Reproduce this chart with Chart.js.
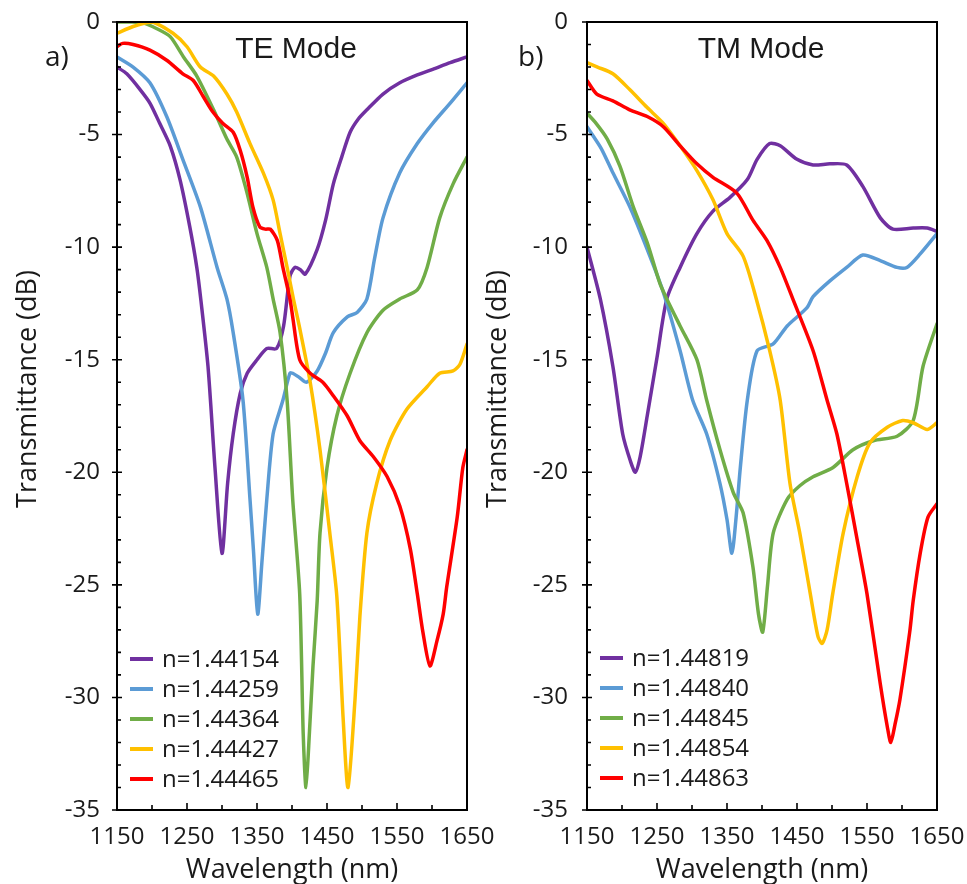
<!DOCTYPE html>
<html><head><meta charset="utf-8">
<script src="https://cdn.jsdelivr.net/npm/chart.js@4.4.1/dist/chart.umd.min.js"></script>
<style>
html,body{margin:0;padding:0;background:#fff;}
body{width:967px;height:884px;position:relative;overflow:hidden;}
#wrapA{position:absolute;left:0;top:0;width:500px;height:884px;}
#wrapB{position:absolute;left:480px;top:0;width:487px;height:884px;}
</style></head><body>
<div id="wrapA"><canvas id="cA" width="500" height="884"></canvas></div>
<div id="wrapB"><canvas id="cB" width="487" height="884"></canvas></div>
<script>
// ---------- axis ticks ----------
const xTicksMin = 1150, xTicksMax = 1650, xTickStep = 100;
const yTicksMin = -35, yTicksMax = 0, yTickStep = 5;

const seriesColors = ['#7030A0', '#5B9BD5', '#70AD47', '#FFC000', '#FF0000'];

// ---------- a) TE mode ----------
const teLabels = ['n=1.44154', 'n=1.44259', 'n=1.44364', 'n=1.44427', 'n=1.44465'];

const teWl1 = [1150,1164,1183,1197,1211,1226,1240,1254,1264,1270,1280,1290,1300,1308,1316,1326,1336,1350,1364,1378,1388,1397,1404,1412,1419,1436,1448,1459,1471,1483,1495,1507,1530,1554,1579,1601,1626,1650];
const teDb1 = [-2.0,-2.3,-3.0,-3.6,-4.5,-5.5,-7.0,-9.1,-10.9,-12.4,-15.3,-19.8,-23.6,-20.5,-18.3,-16.5,-15.6,-15.0,-14.5,-14.5,-13.5,-11.3,-10.9,-11.0,-11.2,-10.1,-8.8,-7.2,-6.0,-4.9,-4.3,-3.9,-3.2,-2.7,-2.35,-2.1,-1.8,-1.55];

const teWl2 = [1150,1173,1197,1221,1244,1269,1293,1307,1316,1330,1340,1345,1351,1357,1364,1373,1387,1397,1401,1411,1421,1436,1448,1459,1479,1493,1507,1518,1530,1554,1579,1601,1626,1650];
const teDb2 = [-1.55,-2.0,-2.7,-4.2,-6.1,-8.2,-10.9,-12.3,-13.8,-16.8,-21.2,-23.5,-26.3,-24.0,-21.2,-18.3,-16.8,-15.6,-15.6,-15.8,-16.0,-15.5,-14.7,-13.8,-13.1,-12.9,-12.3,-10.5,-8.7,-6.7,-5.4,-4.5,-3.6,-2.7];

const teWl3 = [1150,1172,1188,1207,1226,1245,1264,1288,1307,1321,1335,1350,1364,1373,1383,1393,1401,1411,1416,1420,1425,1430,1436,1440,1450,1464,1483,1507,1530,1554,1579,1593,1611,1630,1650];
const teDb3 = [0,0,-0.05,-0.3,-0.65,-1.55,-2.4,-3.9,-5.2,-6.0,-7.5,-9.4,-10.9,-12.3,-13.8,-16.8,-21.2,-25.4,-31.6,-34.0,-31.5,-28.6,-25.7,-22.7,-19.8,-17.5,-15.6,-13.8,-12.8,-12.3,-11.9,-10.9,-8.7,-7.2,-6.0];

const teWl4 = [1150,1173,1190,1201,1230,1250,1269,1288,1307,1321,1340,1359,1373,1383,1393,1402,1411,1426,1440,1454,1464,1473,1480,1490,1497,1507,1521,1540,1564,1593,1611,1630,1640,1650];
const teDb4 = [-0.5,-0.2,-0.05,0,-0.5,-1.1,-2.0,-2.4,-3.2,-4.0,-5.4,-6.7,-7.9,-9.4,-10.9,-12.3,-13.6,-16.0,-19.0,-22.7,-25.5,-30.9,-34.0,-30.1,-26.4,-22.7,-20.5,-18.6,-17.2,-16.2,-15.6,-15.5,-15.2,-14.3];

const teWl5 = [1150,1158,1173,1197,1221,1244,1259,1273,1287,1301,1316,1326,1336,1344,1354,1362,1369,1379,1387,1397,1401,1411,1426,1444,1459,1479,1497,1516,1536,1554,1569,1579,1587,1597,1607,1616,1621,1636,1644,1650];
const teDb5 = [-1.1,-0.95,-1.0,-1.25,-1.7,-2.3,-2.6,-3.3,-4.0,-4.5,-4.9,-5.7,-6.9,-8.2,-9.1,-9.2,-9.2,-9.7,-10.9,-12.3,-13.1,-15.0,-15.6,-16.0,-16.6,-17.5,-18.6,-19.3,-20.2,-21.5,-23.4,-25.4,-27.1,-28.6,-27.5,-26.3,-25.1,-22.0,-19.8,-19.0];

// ---------- b) TM mode ----------
const tmLabels = ['n=1.44819', 'n=1.44840', 'n=1.44845', 'n=1.44854', 'n=1.44863'];

const tmWl1 = [1150,1169,1187,1201,1212,1219,1226,1236,1250,1264,1283,1307,1330,1354,1379,1393,1411,1426,1450,1473,1497,1521,1544,1569,1587,1616,1636,1650];
const tmDb1 = [-10.0,-12.3,-15.3,-18.3,-19.5,-20.0,-19.3,-17.5,-14.9,-12.3,-10.9,-9.4,-8.4,-7.8,-7.0,-6.1,-5.4,-5.5,-6.1,-6.35,-6.3,-6.35,-7.3,-8.7,-9.2,-9.15,-9.15,-9.3];

const tmWl2 = [1150,1170,1187,1211,1236,1259,1283,1301,1321,1340,1350,1357,1363,1369,1379,1393,1416,1436,1464,1473,1497,1521,1544,1569,1593,1607,1626,1650];
const tmDb2 = [-4.65,-5.6,-6.7,-8.2,-10.1,-12.0,-14.6,-16.8,-18.3,-20.5,-22.1,-23.6,-22.0,-19.8,-16.8,-14.6,-14.3,-13.5,-12.7,-12.2,-11.5,-10.9,-10.35,-10.6,-10.9,-10.9,-10.3,-9.4];

const tmWl3 = [1150,1163,1179,1197,1216,1236,1254,1264,1283,1307,1321,1340,1359,1373,1387,1395,1401,1408,1416,1436,1454,1473,1501,1530,1559,1593,1616,1630,1650];
const tmDb3 = [-4.05,-4.5,-5.2,-6.4,-8.2,-9.8,-11.6,-12.3,-13.5,-15.0,-16.8,-19.0,-20.9,-21.8,-24.2,-26.3,-27.1,-25.0,-22.7,-21.2,-20.6,-20.2,-19.8,-19.0,-18.6,-18.4,-17.7,-15.3,-13.4];

const tmWl4 = [1150,1165,1187,1211,1236,1259,1283,1307,1330,1350,1373,1391,1411,1426,1440,1454,1469,1480,1486,1493,1501,1516,1536,1554,1579,1601,1616,1636,1650];
const tmDb4 = [-1.8,-2.0,-2.3,-3.0,-3.8,-4.5,-5.5,-6.6,-7.9,-9.4,-10.4,-12.2,-14.6,-16.8,-20.5,-22.7,-25.4,-27.3,-27.6,-27.0,-25.4,-22.7,-20.2,-18.7,-18.0,-17.7,-17.8,-18.1,-17.8];

const tmWl5 = [1150,1164,1187,1211,1236,1259,1283,1307,1330,1364,1387,1407,1426,1444,1473,1493,1507,1521,1536,1550,1569,1579,1584,1590,1597,1611,1616,1626,1637,1650];
const tmDb5 = [-2.6,-3.2,-3.5,-3.9,-4.2,-4.65,-5.5,-6.3,-6.9,-7.6,-8.8,-9.7,-10.9,-12.3,-14.6,-16.8,-18.3,-20.5,-23.0,-25.4,-29.4,-31.3,-32.0,-31.2,-30.1,-27.1,-25.7,-23.6,-22.0,-21.4];

// ---------- building ----------
const FONT = "'Open Sans', 'Noto Sans', sans-serif";
const TXT = '#1a1a1a';
Chart.defaults.font.family = FONT;
Chart.defaults.color = TXT;

function pairs(wl, db) { return wl.map((x, i) => ({ x: x, y: db[i] })); }

const decor = {
  id: 'decor',
  afterDraw(chart, args, o) {
    const ctx = chart.ctx, a = chart.chartArea;
    const xs = chart.scales.x, ys = chart.scales.y;
    ctx.save();
    // frame
    ctx.strokeStyle = '#000';
    ctx.lineWidth = 2;
    ctx.strokeRect(a.left, a.top, a.right - a.left, a.bottom - a.top);
    // y ticks: major crossing, minor inside; x ticks inside
    ctx.lineWidth = 1.6;
    ctx.beginPath();
    for (let v = yTicksMin; v <= yTicksMax; v += 1) {
      const p = ys.getPixelForValue(v);
      if (v % yTickStep === 0) { ctx.moveTo(a.left - 5, p); ctx.lineTo(a.left + 5, p); }
      else { ctx.moveTo(a.left, p); ctx.lineTo(a.left + 4, p); }
    }
    for (let v = xTicksMin; v <= xTicksMax; v += xTickStep / 2) {
      const p = xs.getPixelForValue(v);
      if ((v - xTicksMin) % xTickStep === 0) { ctx.moveTo(p, a.bottom + 1); ctx.lineTo(p, a.bottom - 7); }
      else { ctx.moveTo(p, a.bottom); ctx.lineTo(p, a.bottom - 5); }
    }
    ctx.stroke();
    // legend
    ctx.font = "24px " + FONT;
    ctx.textBaseline = 'middle';
    ctx.textAlign = 'left';
    chart.data.datasets.forEach((ds, i) => {
      const y = o.legendY + i * 30;
      ctx.strokeStyle = ds.borderColor;
      ctx.lineWidth = 4;
      ctx.beginPath();
      ctx.moveTo(a.left + o.legendDx, y);
      ctx.lineTo(a.left + o.legendDx + 23, y);
      ctx.stroke();
      ctx.fillStyle = TXT;
      ctx.fillText(ds.label, a.left + o.legendDx + 32, y + 1);
    });
    // panel letter
    ctx.font = "28px " + FONT;
    ctx.fillText(o.letter, o.letterX, 58);
    // mode text
    ctx.font = "30px 'Liberation Sans', Arial, sans-serif";
    ctx.textAlign = 'center';
    ctx.fillText(o.mode, o.modeX, 50);
    // y title
    ctx.font = "27px " + FONT;
    ctx.translate(o.yTitleX, 389);
    ctx.rotate(-Math.PI / 2);
    ctx.fillText('Transmittance (dB)', 0, 0);
    ctx.restore();
  }
};

function makeChart(id, wls, dbs, labels, opts) {
  const datasets = labels.map((lab, i) => ({
    label: lab,
    data: pairs(wls[i], dbs[i]),
    borderColor: seriesColors[i],
    backgroundColor: seriesColors[i],
    borderWidth: 3.5,
    pointRadius: 0,
    tension: 0.25,
    borderJoinStyle: 'round',
    borderCapStyle: 'round',
    fill: false,
    order: labels.length - i
  }));
  return new Chart(document.getElementById(id), {
    type: 'line',
    data: { datasets },
    options: {
      responsive: false,
      animation: false,
      layout: { padding: { left: 0, right: opts.padRight, top: 22, bottom: 0 } },
      plugins: { legend: { display: false }, tooltip: { enabled: false }, decor: opts.decor },
      scales: {
        x: {
          type: 'linear', min: xTicksMin, max: xTicksMax,
          grid: { display: false, drawTicks: false },
          border: { display: false },
          ticks: { stepSize: xTickStep, padding: 0, maxRotation: 0, autoSkip: false,
                   font: { size: 24, lineHeight: 2.3 }, color: TXT, callback: v => String(v) },
          title: { display: true, text: 'Wavelength (nm)', font: { size: 27, lineHeight: 1.0 }, color: TXT, padding: { top: 0, bottom: 0 } },
          afterFit: s => { s.height = 74; }
        },
        y: {
          type: 'linear', min: yTicksMin, max: yTicksMax,
          grid: { display: false, drawTicks: false },
          border: { display: false },
          ticks: { stepSize: yTickStep, padding: opts.yPad, font: { size: 24, lineHeight: 0.2 }, color: TXT, callback: v => String(v) },
          afterFit: s => { s.width = opts.yWidth; }
        }
      }
    },
    plugins: [decor]
  });
}

makeChart('cA', [teWl1, teWl2, teWl3, teWl4, teWl5], [teDb1, teDb2, teDb3, teDb4, teDb5], teLabels, {
  padRight: 33, yWidth: 117, yPad: 17,
  decor: { legendDx: 13, legendY: 659, letter: 'a)', letterX: 45, mode: 'TE Mode', modeX: 296, yTitleX: 28 }
});
makeChart('cB', [tmWl1, tmWl2, tmWl3, tmWl4, tmWl5], [tmDb1, tmDb2, tmDb3, tmDb4, tmDb5], tmLabels, {
  padRight: 30, yWidth: 107, yPad: 19,
  decor: { legendDx: 13, legendY: 658, letter: 'b)', letterX: 38, mode: 'TM Mode', modeX: 281, yTitleX: 18 }
});
</script>
</body></html>
